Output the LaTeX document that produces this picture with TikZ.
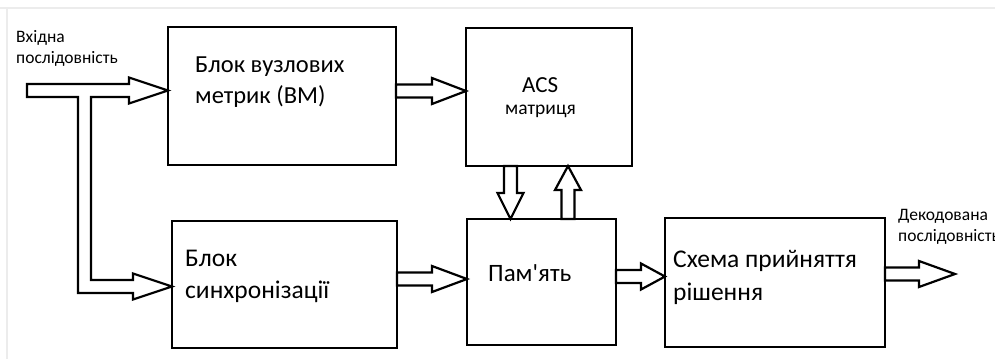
\documentclass[tikz,border=0pt]{standalone}
\usepackage{fontspec}
\setmainfont{Carlito}[Ligatures=TeXOff]
\usetikzlibrary{calc}

% hollow block arrows between two points on one line
\newcommand{\rarrow}[3][35pt]{%
  \draw[hollow] let \p1=#2, \p2=#3 in
    (\x1,\y1+6.5pt) -- (\x2-#1,\y1+6.5pt) -- (\x2-#1,\y1+13pt) -- (\x2,\y1)
    -- (\x2-#1,\y1-13pt) -- (\x2-#1,\y1-6.5pt) -- (\x1,\y1-6.5pt) -- cycle;}
\newcommand{\darrow}[3][25pt]{%
  \draw[hollow] let \p1=#2, \p2=#3 in
    (\x1-6.5pt,\y1) -- (\x1-6.5pt,\y2+#1) -- (\x1-13pt,\y2+#1) -- (\x1,\y2)
    -- (\x1+13pt,\y2+#1) -- (\x1+6.5pt,\y2+#1) -- (\x1+6.5pt,\y1) -- cycle;}
\newcommand{\uarrow}[3][25pt]{%
  \draw[hollow] let \p1=#2, \p2=#3 in
    (\x1-6.5pt,\y1) -- (\x1-6.5pt,\y2-#1) -- (\x1-13pt,\y2-#1) -- (\x1,\y2)
    -- (\x1+13pt,\y2-#1) -- (\x1+6.5pt,\y2-#1) -- (\x1+6.5pt,\y1) -- cycle;}

\begin{document}
\begin{tikzpicture}[
	x=1pt, y=-1pt,
	box/.style={draw, line width=2.6pt, outer sep=0pt, inner sep=0pt},
	hollow/.style={draw, line width=2.2pt, fill=white, line join=miter},
	txt/.style={anchor=base west, align=left, inner sep=0pt},
	small/.style={font=\fontsize{17.5}{21}\selectfont}
	]
\useasboundingbox (0,0) rectangle (995,359);
\draw[gray!15, line width=1.5pt] (0,8) -- (995,8);
\draw[gray!15, line width=1.5pt] (7,8) -- (7,359);

% blocks
\node[box, minimum width=228, minimum height=138] (bm) at (282,96) {};
\node[box, minimum width=166, minimum height=138] (acs) at (549,97) {};
\node[box, minimum width=225, minimum height=127] (sync) at (284.5,284.5) {};
\node[box, minimum width=149, minimum height=126] (mem) at (541.5,282) {};
\node[box, minimum width=220, minimum height=129] (dec) at (775,282.5) {};

% texts (base = last line)
\node[txt, font=\fontsize{24.5}{31}\selectfont] (bmtext) at (195,103) {Блок вузлових\\метрик (ВМ)};
\node[txt, font=\fontsize{23}{22}\selectfont] (acstext) at (522,92) {ACS};
\node[txt, font=\fontsize{19.5}{22}\selectfont] (matrtext) at (505,114) {матриця};
\node[txt, font=\fontsize{25.5}{32}\selectfont] (synctext) at (185,298) {Блок\\синхронізації};
\node[txt, font=\fontsize{25}{31}\selectfont] (memtext) at (488,281) {Пам'ять};
\node[txt, font=\fontsize{25.5}{33}\selectfont] (dectext) at (673,300) {Схема прийняття\\рішення};
\node[txt, small] (intext) at (16,63) {Вхідна\\послідовність};
\node[txt, small] (outtext) at (898,241) {Декодована\\послідовність};

\coordinate (in) at (27,90.5);
\coordinate (branch) at (84.5,286.5);
\coordinate (out) at (955,274);

% input arrow with branch to the synchronisation block
\draw[hollow] let \p1=(in), \p2=(bm.west |- in), \p3=(branch), \p4=(sync.west |- branch) in
	(\x1,\y1+6.5pt) -- (\x2-39pt,\y1+6.5pt) -- (\x2-39pt,\y1+13pt) -- (\x2,\y1)
	-- (\x2-39pt,\y1-13pt) -- (\x2-39pt,\y1-6.5pt) -- (\x3+6.5pt,\y1-6.5pt)
	-- (\x3+6.5pt,\y3+6.5pt) -- (\x4-39pt,\y3+6.5pt) -- (\x4-39pt,\y3+13pt) -- (\x4,\y3)
	-- (\x4-39pt,\y3-13pt) -- (\x4-39pt,\y3-6.5pt) -- (\x3-6.5pt,\y3-6.5pt)
	-- (\x3-6.5pt,\y1-6.5pt) -- (\x1,\y1-6.5pt) -- cycle;

\rarrow[34pt]{(bm.east |- 0,91)}{(acs.west |- 0,91)}
\darrow[26pt]{(acs.south -| 510.5,0)}{(mem.north -| 510.5,0)}
\uarrow[24pt]{(mem.north -| 568,0)}{(acs.south -| 568,0)}
\rarrow[35pt]{(sync.east |- 0,279)}{(mem.west |- 0,279)}
\rarrow[24pt]{(mem.east |- 0,276.5)}{(dec.west |- 0,276.5)}
\rarrow[36pt]{(dec.east |- out)}{(out)}
\end{tikzpicture}
\end{document}
